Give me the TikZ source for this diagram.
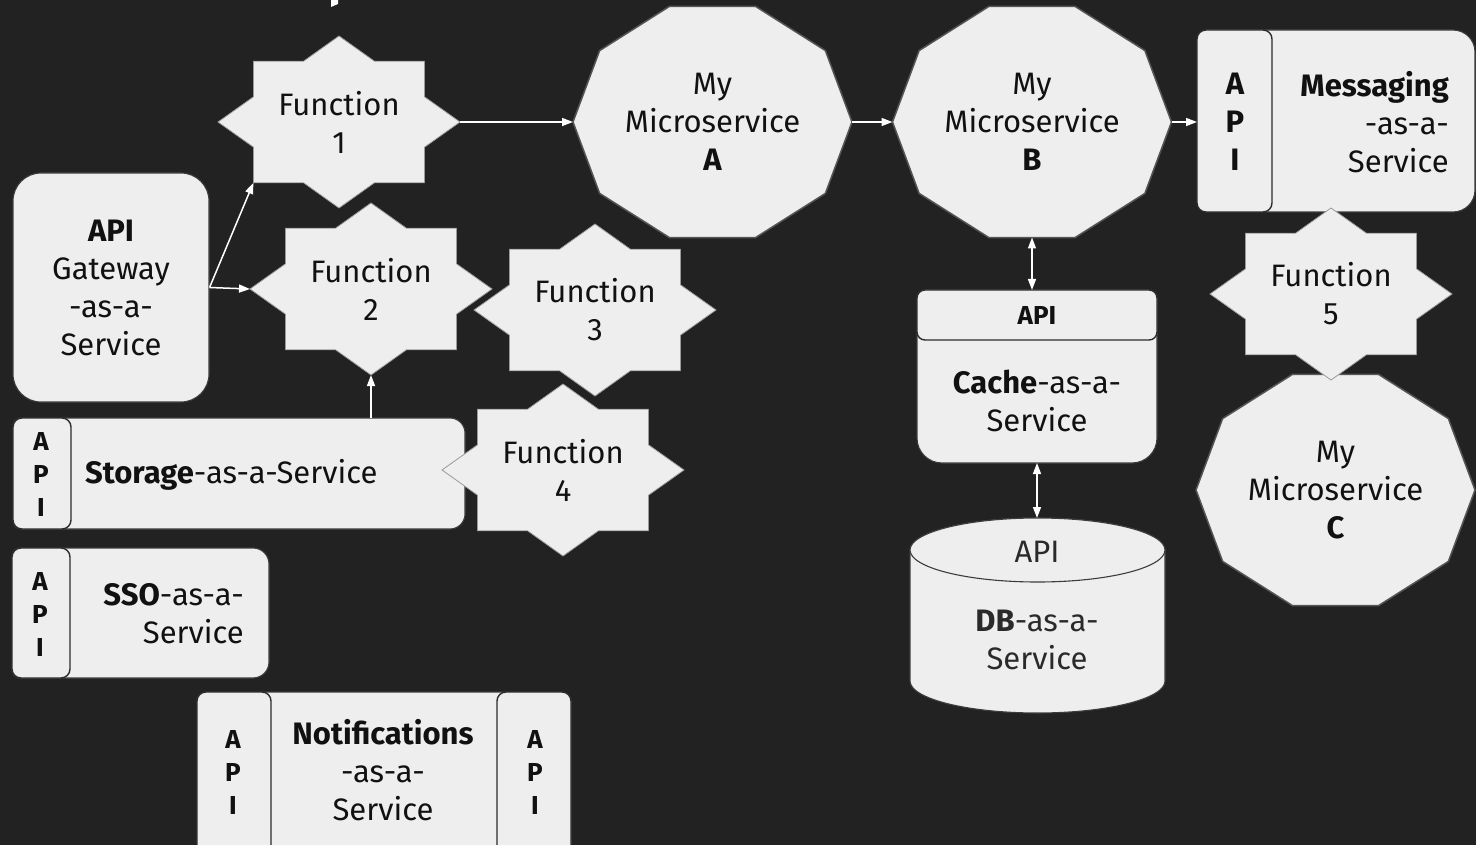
\documentclass[tikz,border=0pt]{standalone}
\usepackage{fontspec}
\setmainfont{Fira Sans}
\usetikzlibrary{arrows.meta,calc}

\definecolor{bg}{HTML}{222222}
\definecolor{shapefill}{HTML}{EEEEEE}
\definecolor{decaline}{HTML}{555555}
\definecolor{starline}{HTML}{9A9A9A}
\definecolor{boxline}{HTML}{3C3C3C}
\definecolor{apiline}{HTML}{2C2C2C}
\definecolor{ink}{HTML}{111111}
\definecolor{dbink}{HTML}{2A2A2A}

\tikzset{
  x=1pt, y=-1pt,
  starshape/.style={fill=shapefill, draw=starline, line width=0.8pt, line join=miter},
  decashape/.style={fill=shapefill, draw=decaline, line width=1.5pt},
  box/.style={fill=shapefill, draw=boxline, line width=1.1pt},
  apibox/.style={fill=shapefill, draw=apiline, line width=1.4pt, rounded corners=9},
  label text/.style={text=ink, font=\fontsize{31}{38}\selectfont, align=center, inner sep=0pt},
  api text/.style={text=ink, font=\fontsize{26}{33}\selectfont\bfseries, align=center, inner sep=0pt},
  api big/.style={text=ink, font=\fontsize{31}{38}\selectfont\bfseries, align=center, inner sep=0pt},
  arr/.style={draw=white, line width=1.5pt, -{Triangle[length=11pt,width=8pt]}},
  darr/.style={draw=white, line width=1.5pt, {Triangle[length=11pt,width=8pt]}-{Triangle[length=11pt,width=8pt]}},
}

% eight-pointed function star: name, centre, text
\newcommand\fnstar[3]{%
  \draw[starshape, shift={#2}] (0:121 and 86)
    \foreach \k in {1,...,15}{ -- ({\k*22.5}:{121*(1-0.235*mod(\k,2))} and {86*(1-0.235*mod(\k,2))}) } -- cycle;
  \node[label text] (#1) at #2 {#3};
  \path[shift={#2}] (121,0) coordinate (#1-e) (-121,0) coordinate (#1-w)
    (0,-86) coordinate (#1-n) (0,86) coordinate (#1-s) (-85.6,60.8) coordinate (#1-sw);
}

% ten-sided microservice: name, centre, text
\newcommand\msdeca[3]{%
  \draw[decashape, shift={#2}] (0:139.5 and 121.5)
    \foreach \k in {1,...,9}{ -- ({\k*36}:139.5 and 121.5) } -- cycle;
  \node[label text] (#1) at #2 {#3};
  \path[shift={#2}] (139.5,0) coordinate (#1-e) (-139.5,0) coordinate (#1-w)
    (0,-115.5) coordinate (#1-n) (0,115.5) coordinate (#1-s);
}

\begin{document}
\begin{tikzpicture}
\useasboundingbox (0,0) rectangle (1476,845);
\clip (0,0) rectangle (1476,845);
\fill[bg] (0,0) rectangle (1476,845);

% small white mark at the top edge
\fill[white] (331,0) -- (338,0) -- (338,4) -- (331,7) -- cycle;

% API gateway
\node[box, rounded corners=28, minimum width=196, minimum height=229,
      text=ink, font=\fontsize{31}{38}\selectfont, align=center, inner sep=0pt]
      (gw) at (111,287.5) {{\bfseries API}\\Gateway\\-as-a-\\Service};

% Storage-as-a-Service
\draw[box, rounded corners=8] (40,418) -- (13,418) -- (13,529) -- (40,529)
  [rounded corners=15] -- (465,529) -- (465,418) -- cycle;
\draw[apibox] (13,418) rectangle (71,529);
\node[api text] (stoapi) at (41,474) {A\\P\\I};
\node[label text, anchor=west] (sto) at (85,475) {{\bfseries Storage}-as-a-Service};
\coordinate (sto-n) at (371,418);

% SSO-as-a-Service
\draw[box, rounded corners=8] (40,548) -- (12,548) -- (12,678) -- (40,678)
  [rounded corners=16] -- (269,678) -- (269,548) -- cycle;
\draw[apibox] (12,548) rectangle (70,678);
\node[api text] (ssoapi) at (40,614) {A\\P\\I};
\node[label text, anchor=east, align=right] (sso) at (244,614) {{\bfseries SSO}-as-a-\\Service};

% Notifications-as-a-Service
\draw[box, rounded corners=9] (197,692) rectangle (571,880);
\draw[apibox] (197,692) rectangle (271,880);
\draw[apibox] (497,692) rectangle (571,880);
\node[api text] (notapil) at (233,772) {A\\P\\I};
\node[api text] (notapir) at (535,772) {A\\P\\I};
\node[label text] (notif) at (383,770) {{\bfseries Notifications}\\-as-a-\\Service};

% functions
\fnstar{f1}{(339,122)}{Function\\1}
\fnstar{f2}{(371,289)}{Function\\2}
\fnstar{f3}{(595,310)}{Function\\3}
\fnstar{f4}{(563,470)}{Function\\4}

% microservices A and B
\msdeca{msa}{(712.5,122)}{My\\Microservice\\{\bfseries A}}
\msdeca{msb}{(1032,122)}{My\\Microservice\\{\bfseries B}}

% Messaging-as-a-Service
\draw[box, rounded corners=10] (1240,30) -- (1197,30) -- (1197,212) -- (1240,212)
  [rounded corners=22] -- (1475,212) -- (1475,30) -- cycle;
\draw[apibox] (1197,30) rectangle (1272,212);
\node[api big] (msgapi) at (1235,122) {A\\P\\I};
\node[label text, anchor=east, align=right] (msg) at (1449,122) {{\bfseries Messaging}\\-as-a-\\Service};
\coordinate (msg-w) at (1197,122);

% microservice C and function 5
\msdeca{msc}{(1335.5,490)}{My\\Microservice\\{\bfseries C}}
\fnstar{f5}{(1331,294)}{Function\\5}

% Cache-as-a-Service
\draw[box] (917,330) [rounded corners=25] -- (917,463) -- (1157,463) -- (1157,330)
  [rounded corners=8] -- (1157,290) -- (917,290) -- cycle;
\draw[apibox, rounded corners=8] (917,290) rectangle (1157,340);
\node[api text] (cacheapi) at (1037,315) {API};
\node[label text] (cache) at (1037,401) {{\bfseries Cache}-as-a-\\Service};
\coordinate (cache-n) at (1032,290);
\coordinate (cache-s) at (1037,463);

% DB-as-a-Service
\draw[box] (910,550) -- (910,681) arc[start angle=180, end angle=0, x radius=127.5, y radius=32]
  -- (1165,550) arc[start angle=0, end angle=-180, x radius=127.5, y radius=32] -- cycle;
\draw[box] (1037.5,550) ellipse[x radius=127.5, y radius=32];
\node[label text, text=dbink] (dbapi) at (1037,552) {API};
\node[label text, text=dbink] (db) at (1037,640) {{\bfseries DB}-as-a-\\Service};
\coordinate (db-n) at (1037,518);

% connectors
\draw[arr] (gw.east) -- (f1-sw);
\draw[arr] (gw.east) -- (f2-w);
\draw[arr] (sto-n) -- (f2-s);
\draw[arr] (f1-e) -- (msa-w);
\draw[arr] (msa-e) -- (msb-w);
\draw[arr] (msb-e) -- (msg-w);
\draw[darr] (msb-s) -- (cache-n);
\draw[darr] (cache-s) -- (db-n);
\end{tikzpicture}
\end{document}
